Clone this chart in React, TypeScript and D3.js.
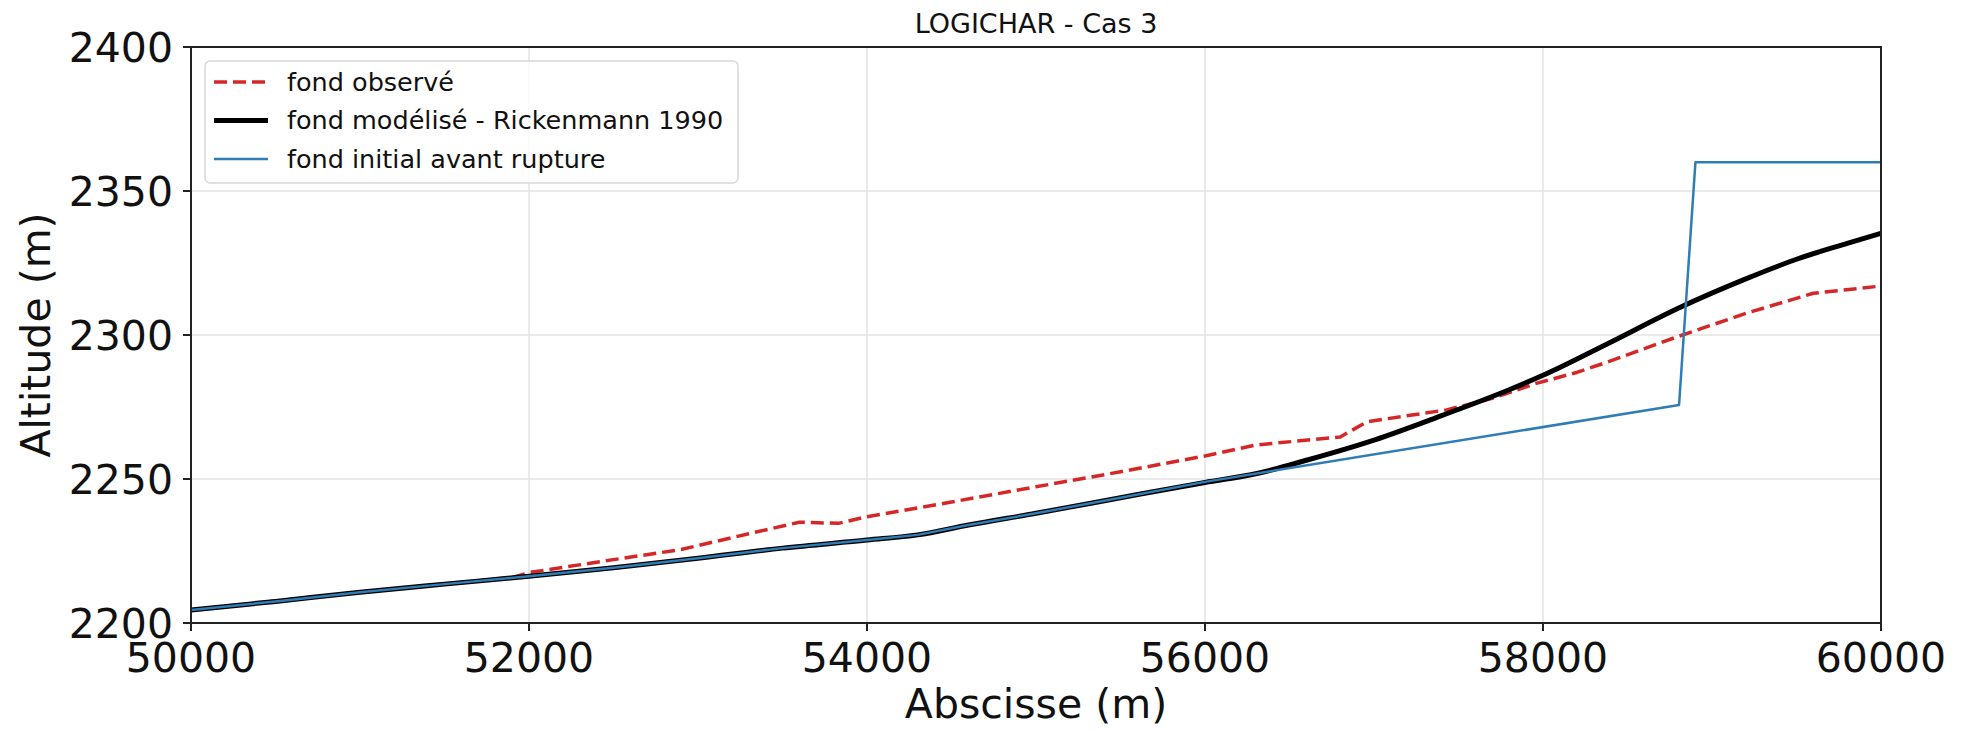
import React from "react";
import * as d3 from "d3";

const TITLE = "LOGICHAR - Cas 3";
const X_LABEL = "Abscisse (m)";
const Y_LABEL = "Altitude (m)";
const X_TICKS = [50000, 52000, 54000, 56000, 58000, 60000];
const Y_TICKS = [2200, 2250, 2300, 2350, 2400];

const LEGEND = ["fond observé", "fond modélisé - Rickenmann 1990", "fond initial avant rupture"];

// fond observé (red dashed)
const obsX = [50000, 50500, 51000, 51500, 51900, 52000, 52500, 52900, 53300, 53600, 53830, 54000, 54500, 55000, 55500, 56000, 56300, 56800, 56960, 57430, 57700, 57960, 58200, 58400, 58800, 59200, 59600, 60000];
const obsY = [2204.5, 2207.6, 2210.7, 2213.5, 2215.8, 2217.5, 2222, 2225.5, 2231, 2235, 2234.6, 2236.9, 2242, 2247.3, 2252.5, 2258, 2261.8, 2264.6, 2269.9, 2274, 2278, 2283.2, 2287, 2291, 2299.5, 2307.5, 2314.5, 2317];

// fond modélisé (black)
const modX = [50000, 50500, 51000, 51500, 52000, 52500, 53000, 53500, 54000, 54300, 54600, 55000, 55500, 56000, 56300, 56600, 57000, 57400, 57800, 58000, 58400, 58800, 59200, 59500, 59800, 60000];
const modY = [2204.5, 2207.5, 2210.7, 2213.5, 2216.2, 2219.2, 2222.5, 2226, 2228.8, 2230.6, 2234, 2238.1, 2243.5, 2248.8, 2251.8, 2256.5, 2263.5, 2272, 2281, 2286, 2297.5, 2309.3, 2319.5, 2326.3, 2331.8, 2335.3];

// fond initial avant rupture (blue)
const iniX = [50000, 50500, 51000, 51500, 52000, 52500, 53000, 53500, 54000, 54300, 54600, 55000, 55500, 56000, 58805, 58902, 60000];
const iniY = [2204.5, 2207.5, 2210.7, 2213.5, 2216.2, 2219.2, 2222.5, 2226, 2228.8, 2230.6, 2234, 2238.1, 2243.5, 2249, 2275.7, 2360, 2360];

const W = 1976;
const H = 730;
const M = { left: 191, right: 1881, top: 47, bottom: 623 };

const RED = "#d62728";
const BLUE = "#2f7db5";

export default function App() {
  const x = d3.scaleLinear().domain([50000, 60000]).range([M.left, M.right]);
  const y = d3.scaleLinear().domain([2200, 2400]).range([M.bottom, M.top]);
  const line = d3
    .line<[number, number]>()
    .x((d) => x(d[0]))
    .y((d) => y(d[1]));
  const smooth = d3
    .line<[number, number]>()
    .x((d) => x(d[0]))
    .y((d) => y(d[1]))
    .curve(d3.curveMonotoneX);
  const zip = (a: number[], b: number[]) => a.map((v, i) => [v, b[i]] as [number, number]);

  const font = "DejaVu Sans";
  const legendRows = [
    { label: LEGEND[0], color: RED, width: 3.5, dash: "13,6" },
    { label: LEGEND[1], color: "#000", width: 5, dash: undefined },
    { label: LEGEND[2], color: BLUE, width: 2.5, dash: undefined },
  ];

  return (
    <svg
      width={W}
      height={H}
      style={{ position: "absolute", left: 0, top: 0, background: "#fff" }}
      fontFamily={font}
    >
      <rect x={0} y={0} width={W} height={H} fill="#fff" />
      <defs>
        <clipPath id="plot">
          <rect x={M.left} y={M.top} width={M.right - M.left} height={M.bottom - M.top} />
        </clipPath>
      </defs>
      {/* grid */}
      {X_TICKS.map((t) => (
        <line key={"gx" + t} x1={x(t)} x2={x(t)} y1={M.top} y2={M.bottom} stroke="#e3e3e3" strokeWidth={1.5} />
      ))}
      {Y_TICKS.map((t) => (
        <line key={"gy" + t} x1={M.left} x2={M.right} y1={y(t)} y2={y(t)} stroke="#e3e3e3" strokeWidth={1.5} />
      ))}
      {/* lines */}
      <g clipPath="url(#plot)" fill="none" strokeLinejoin="round">
        <path d={line(zip(obsX, obsY)) || ""} stroke={RED} strokeWidth={3.5} strokeDasharray="13,6" />
        <path d={smooth(zip(modX, modY)) || ""} stroke="#000" strokeWidth={5} />
        <path d={line(zip(iniX, iniY)) || ""} stroke={BLUE} strokeWidth={2.5} />
      </g>
      {/* frame */}
      <rect
        x={M.left}
        y={M.top}
        width={M.right - M.left}
        height={M.bottom - M.top}
        fill="none"
        stroke="#222"
        strokeWidth={2}
      />
      {/* x ticks */}
      {X_TICKS.map((t) => (
        <g key={"xt" + t}>
          <line x1={x(t)} x2={x(t)} y1={M.bottom} y2={M.bottom + 8} stroke="#222" strokeWidth={2} />
          <text x={x(t)} y={672} textAnchor="middle" fontSize={41} fill="#111">
            {t}
          </text>
        </g>
      ))}
      {/* y ticks */}
      {Y_TICKS.map((t) => (
        <g key={"yt" + t}>
          <line x1={M.left - 8} x2={M.left} y1={y(t)} y2={y(t)} stroke="#222" strokeWidth={2} />
          <text x={173} y={y(t)} dy="0.36em" textAnchor="end" fontSize={41} fill="#111">
            {t}
          </text>
        </g>
      ))}
      {/* labels */}
      <text x={(M.left + M.right) / 2} y={718} textAnchor="middle" fontSize={41} fill="#111">
        {X_LABEL}
      </text>
      <text
        transform={`translate(50, ${(M.top + M.bottom) / 2}) rotate(-90)`}
        textAnchor="middle"
        fontSize={41}
        fill="#111"
      >
        {Y_LABEL}
      </text>
      <text x={(M.left + M.right) / 2} y={33} textAnchor="middle" fontSize={27} fill="#111">
        {TITLE}
      </text>
      {/* legend */}
      <rect x={205} y={61} width={533} height={122} rx={5} fill="#fff" fillOpacity={0.8} stroke="#d8d8d8" strokeWidth={1.5} />
      {legendRows.map((r, i) => {
        const yy = 82 + i * 38.5;
        return (
          <g key={"lg" + i}>
            <line x1={214} x2={268} y1={yy} y2={yy} stroke={r.color} strokeWidth={r.width} strokeDasharray={r.dash} />
            <text x={287} y={yy + 8.5} fontSize={25.5} fill="#111">
              {r.label}
            </text>
          </g>
        );
      })}
    </svg>
  );
}
